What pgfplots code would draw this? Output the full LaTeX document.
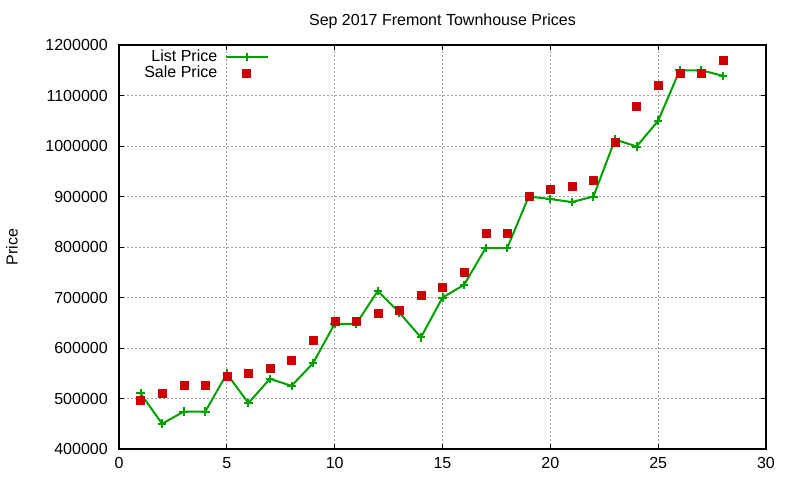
\documentclass[border=0pt]{standalone}
\usepackage{fontspec}
\setmainfont{Liberation Sans}
\usepackage{pgfplots}
\pgfplotsset{compat=1.18}

\definecolor{listgreen}{HTML}{00A000}
\definecolor{salered}{HTML}{CC0000}
\definecolor{gridgray}{HTML}{A0A0A0}

\pgfplotstableread{
x price
1 510000
2 450000
3 474000
4 474000
5 549000
6 491000
7 539000
8 525000
9 570000
10 648000
11 648000
12 713000
13 670000
14 621000
15 700000
16 725000
17 798000
18 798000
19 900000
20 895000
21 889000
22 900000
23 1013000
24 999000
25 1050000
26 1150000
27 1150000
28 1139000
}\listprice

\pgfplotstableread{
x price
1 496000
2 511000
3 527000
4 527000
5 545000
6 551000
7 561000
8 575000
9 616000
10 654000
11 654000
12 670000
13 675000
14 705000
15 721000
16 750000
17 828000
18 828000
19 900000
20 915000
21 921000
22 933000
23 1008000
24 1079000
25 1121000
26 1145000
27 1145000
28 1170000
}\saleprice

\begin{document}
\fontsize{12}{14}\selectfont
\begin{tikzpicture}
\begin{axis}[
    scale only axis,
    width=485.25pt,
    height=303pt,
    xmin=0, xmax=30,
    ymin=400000, ymax=1200000,
    xtick={0,5,...,30},
    ytick={400000,500000,...,1200000},
    scaled y ticks=false,
    /pgf/number format/.cd, fixed, 1000 sep={}, assume math mode=true,
    /pgfplots/.cd,
    axis line style={black, line width=1pt},
    tick align=inside,
    major tick length=3.75pt,
    tick style={black, line width=0.75pt},
    grid=major,
    major grid style={gridgray, line width=0.75pt, dash pattern=on 1.5pt off 1.5pt},
    xticklabel style={inner sep=0pt, yshift=-6pt},
    yticklabel style={inner sep=0pt, xshift=-8.25pt},
    title={Sep 2017 Fremont Townhouse Prices},
    title style={at={(0.5,1)}, anchor=base, yshift=9pt, inner sep=0pt},
    ylabel={Price},
    ylabel style={at={(axis description cs:-0.1654,0.5)}, anchor=center, rotate=0},
    legend plot pos=right,
    legend cell align=right,
    legend image code/.code={\path (0pt,0pt); \draw[mark repeat=2,mark phase=2] plot coordinates {(3.5pt,0pt) (19.25pt,0pt) (35pt,0pt)};},
    legend style={draw=none, fill=none, at={(0.0346,0.995)}, anchor=north west,
        row sep=-2.25pt, inner sep=0pt},
]
\addplot[listgreen, line width=1.5pt, mark=+, mark size=3.2pt] table[x=x, y=price] {\listprice};
\addlegendentry{List Price}
\addplot[only marks, mark=square*, mark size=3pt, mark options={draw=salered, fill=salered, line width=0.2pt}] table[x=x, y=price] {\saleprice};
\addlegendentry{Sale Price}
\end{axis}
\pgfresetboundingbox
\path (-89.25pt,-23.25pt) rectangle (510.75pt,336.75pt);
\end{tikzpicture}
\end{document}
